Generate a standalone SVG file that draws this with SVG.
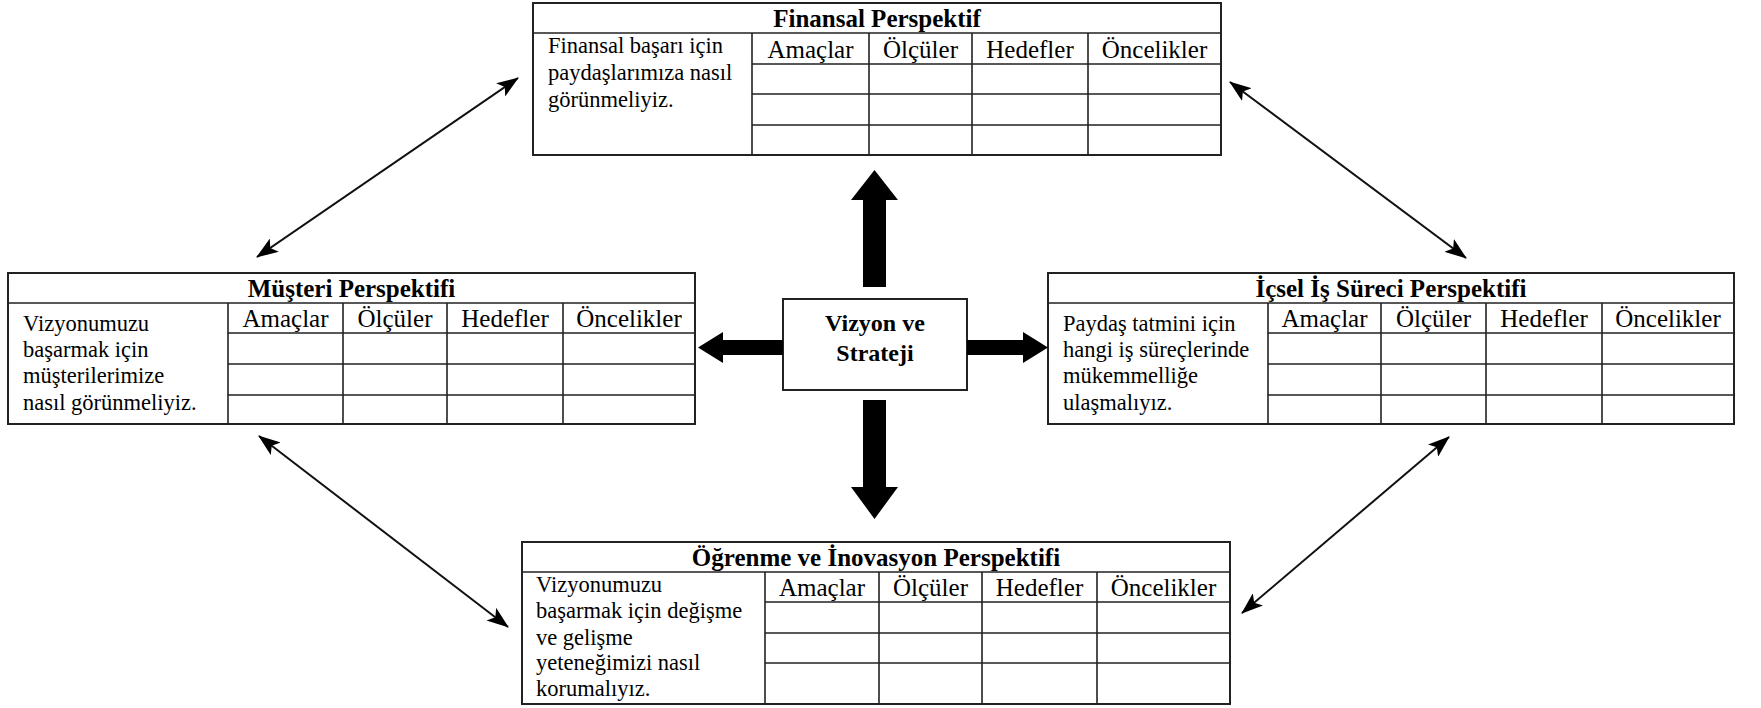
<svg xmlns="http://www.w3.org/2000/svg" width="1761" height="708" viewBox="0 0 1761 708">
  <style>
    .frame { fill: #ffffff; stroke: #222; stroke-width: 2; }
    .grid { fill: none; stroke: #222; stroke-width: 1.6; }
    .title { font-family: "Liberation Serif", serif; font-weight: bold; font-size: 25px; fill: #000; text-anchor: middle; }
    .head { font-family: "Liberation Serif", serif; font-size: 25px; fill: #000; text-anchor: middle; }
    .body { font-family: "Liberation Serif", serif; font-size: 22.5px; fill: #000; }
    .core { font-family: "Liberation Serif", serif; font-weight: bold; font-size: 24px; fill: #000; text-anchor: middle; }
    .link { fill: none; stroke: #111; stroke-width: 2; marker-start: url(#tip); marker-end: url(#tip); }
    .block { fill: #000; }
  </style>
  <defs>
    <marker id="tip" viewBox="0 0 22 16" refX="21" refY="8" markerWidth="22" markerHeight="16" markerUnits="userSpaceOnUse" orient="auto-start-reverse">
      <path d="M0,0 L22,8 L0,16 L5,8 Z" fill="#000"/>
    </marker>
  </defs>

  <rect width="1761" height="708" fill="#ffffff"/>

  <!-- Finansal Perspektif -->
  <g id="finansal">
    <rect class="frame" x="533" y="3" width="688" height="152"/>
    <path class="grid" d="M533,33 H1221 M752,33 V155 M869,33 V155 M972,33 V155 M1088,33 V155 M752,64 H1221 M752,94 H1221 M752,125 H1221"/>
    <text class="title" x="877" y="27">Finansal Perspektif</text>
    <text class="head" x="810.5" y="58">Amaçlar</text>
    <text class="head" x="920.5" y="58">Ölçüler</text>
    <text class="head" x="1030" y="58">Hedefler</text>
    <text class="head" x="1154.5" y="58">Öncelikler</text>
    <text class="body" x="548" y="53">Finansal başarı için</text>
    <text class="body" x="548" y="80">paydaşlarımıza nasıl</text>
    <text class="body" x="548" y="107">görünmeliyiz.</text>
  </g>

  <!-- Müşteri Perspektifi -->
  <g id="musteri">
    <rect class="frame" x="8" y="273" width="687" height="151"/>
    <path class="grid" d="M8,303 H695 M228,303 V424 M343,303 V424 M447,303 V424 M563,303 V424 M228,333 H695 M228,364 H695 M228,395 H695"/>
    <text class="title" x="351.5" y="297">Müşteri Perspektifi</text>
    <text class="head" x="285.5" y="327">Amaçlar</text>
    <text class="head" x="395" y="327">Ölçüler</text>
    <text class="head" x="505" y="327">Hedefler</text>
    <text class="head" x="629" y="327">Öncelikler</text>
    <text class="body" x="23" y="331">Vizyonumuzu</text>
    <text class="body" x="23" y="357">başarmak için</text>
    <text class="body" x="23" y="383">müşterilerimize</text>
    <text class="body" x="23" y="410">nasıl görünmeliyiz.</text>
  </g>

  <!-- İçsel İş Süreci Perspektifi -->
  <g id="icsel">
    <rect class="frame" x="1048" y="273" width="686" height="151"/>
    <path class="grid" d="M1048,303 H1734 M1268,303 V424 M1381,303 V424 M1486,303 V424 M1602,303 V424 M1268,333 H1734 M1268,364 H1734 M1268,395 H1734"/>
    <text class="title" x="1391" y="297">İçsel İş Süreci Perspektifi</text>
    <text class="head" x="1324.5" y="327">Amaçlar</text>
    <text class="head" x="1433.5" y="327">Ölçüler</text>
    <text class="head" x="1544" y="327">Hedefler</text>
    <text class="head" x="1668" y="327">Öncelikler</text>
    <text class="body" x="1063" y="331">Paydaş tatmini için</text>
    <text class="body" x="1063" y="357">hangi iş süreçlerinde</text>
    <text class="body" x="1063" y="383">mükemmelliğe</text>
    <text class="body" x="1063" y="410">ulaşmalıyız.</text>
  </g>

  <!-- Öğrenme ve İnovasyon Perspektifi -->
  <g id="ogrenme">
    <rect class="frame" x="522" y="542" width="708" height="162"/>
    <path class="grid" d="M522,572 H1230 M765,572 V704 M879,572 V704 M982,572 V704 M1097,572 V704 M765,602 H1230 M765,633 H1230 M765,663 H1230"/>
    <text class="title" x="876" y="566">Öğrenme ve İnovasyon Perspektifi</text>
    <text class="head" x="822" y="596">Amaçlar</text>
    <text class="head" x="930.5" y="596">Ölçüler</text>
    <text class="head" x="1039.5" y="596">Hedefler</text>
    <text class="head" x="1163.5" y="596">Öncelikler</text>
    <text class="body" x="536" y="592">Vizyonumuzu</text>
    <text class="body" x="536" y="618">başarmak için değişme</text>
    <text class="body" x="536" y="645">ve gelişme</text>
    <text class="body" x="536" y="670">yeteneğimizi nasıl</text>
    <text class="body" x="536" y="696">korumalıyız.</text>
  </g>

  <!-- Vizyon ve Strateji -->
  <g id="vizyon">
    <rect class="frame" x="783" y="299" width="184" height="91"/>
    <text class="core" x="875" y="331">Vizyon ve</text>
    <text class="core" x="875" y="361">Strateji</text>
  </g>

  <!-- connectors -->
  <g id="connectors">
    <!-- block arrows leaving the centre -->
    <path class="block" d="M863,287 V200 H851 L874.5,170 L898,200 H886 V287 Z"/>
    <path class="block" d="M863,400 V487 H851 L874.5,519 L898,487 H886 V400 Z"/>
    <path class="block" d="M783,340 H723 V332 L698,347.5 L723,363 V355 H783 Z"/>
    <path class="block" d="M967,340 H1023 V332 L1048,347.5 L1023,363 V355 H967 Z"/>
    <!-- two-way links between the perspectives -->
    <line class="link" x1="518" y1="78" x2="257" y2="257"/>
    <line class="link" x1="1230" y1="82" x2="1466" y2="258"/>
    <line class="link" x1="259" y1="436" x2="508" y2="627"/>
    <line class="link" x1="1449" y1="437" x2="1242" y2="613"/>
  </g>
</svg>
